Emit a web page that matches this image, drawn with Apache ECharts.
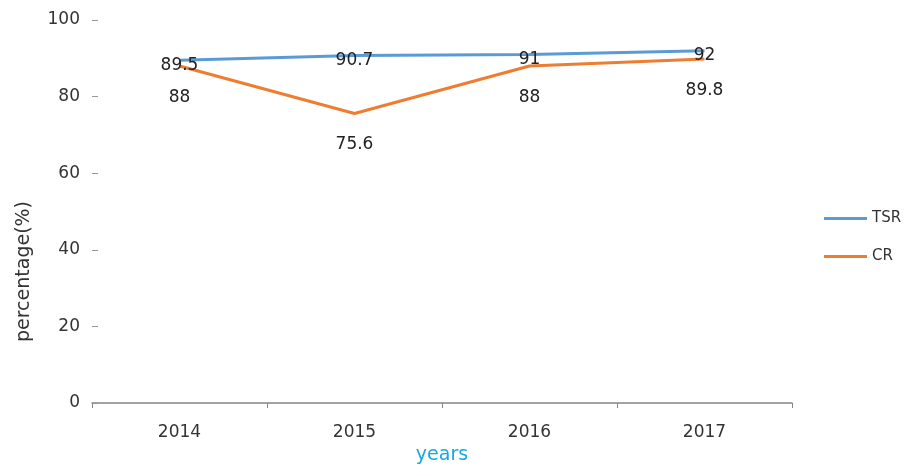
<!DOCTYPE html>
<html>
<head>
<meta charset="utf-8">
<script src="https://cdn.jsdelivr.net/npm/echarts@6/dist/echarts.min.js"></script>
<style>
  html, body { margin: 0; padding: 0; background: #fff; }
  #chart { width: 908px; height: 465px; }
</style>
</head>
<body>
<div id="chart"></div>
<script>
// Yearly percentages for TSR and CR
const years = ['2014', '2015', '2016', '2017'];
const tsrValues = [89.5, 90.7, 91, 92];
const crValues = [88, 75.6, 88, 89.8];
const yTicks = [0, 20, 40, 60, 80, 100];

const fontFamily = '"DejaVu Sans", sans-serif';
const chart = echarts.init(document.getElementById('chart'), null, { renderer: 'canvas' });

chart.setOption({
  backgroundColor: '#ffffff',
  animation: false,
  grid: { left: 92, right: 116, top: 20, bottom: 62, outerBoundsMode: 'none', containLabel: false },
  legend: {
    orient: 'vertical',
    left: 819,
    top: 206,
    itemGap: 23,
    itemWidth: 43,
    itemHeight: 3,
    icon: 'rect',
    textStyle: { fontFamily, fontSize: 15, color: '#333' },
    data: ['TSR', 'CR']
  },
  xAxis: {
    type: 'category',
    data: years,
    boundaryGap: true,
    name: 'years',
    nameLocation: 'middle',
    nameGap: 40,
    nameTextStyle: { fontFamily, fontSize: 19, color: '#1aa7e0' },
    axisLine: { lineStyle: { color: '#858585', width: 1.5 } },
    axisTick: { show: true, length: 5, lineStyle: { color: '#858585' } },
    axisLabel: { fontFamily, fontSize: 17, color: '#333', margin: 21 }
  },
  yAxis: {
    type: 'value',
    min: yTicks[0],
    max: yTicks[yTicks.length - 1],
    interval: yTicks[1] - yTicks[0],
    name: 'percentage(%)',
    nameLocation: 'middle',
    nameRotate: 90,
    nameGap: 58,
    nameTextStyle: { fontFamily, fontSize: 19, color: '#333', padding: [0, 120, 0, 0] },
    axisLine: { show: false },
    axisTick: { show: true, inside: true, length: 6, lineStyle: { color: '#999' } },
    axisLabel: { fontFamily, fontSize: 17, color: '#333', margin: 12 },
    splitLine: { show: false }
  },
  series: [
    {
      name: 'TSR',
      type: 'line',
      data: tsrValues,
      symbol: 'circle',
      symbolSize: 0,
      lineStyle: { color: '#5b9bd5', width: 3 },
      itemStyle: { color: '#5b9bd5' },
      label: {
        show: true,
        position: 'inside',
        offset: [0, 5],
        fontFamily, fontSize: 17, color: '#222'
      },
      z: 3
    },
    {
      name: 'CR',
      type: 'line',
      data: crValues,
      symbol: 'circle',
      symbolSize: 0,
      lineStyle: { color: '#ed7d31', width: 3 },
      itemStyle: { color: '#ed7d31' },
      label: {
        show: true,
        position: 'bottom',
        distance: 23,
        fontFamily, fontSize: 17, color: '#222'
      },
      z: 2
    }
  ]
});
</script>
</body>
</html>
